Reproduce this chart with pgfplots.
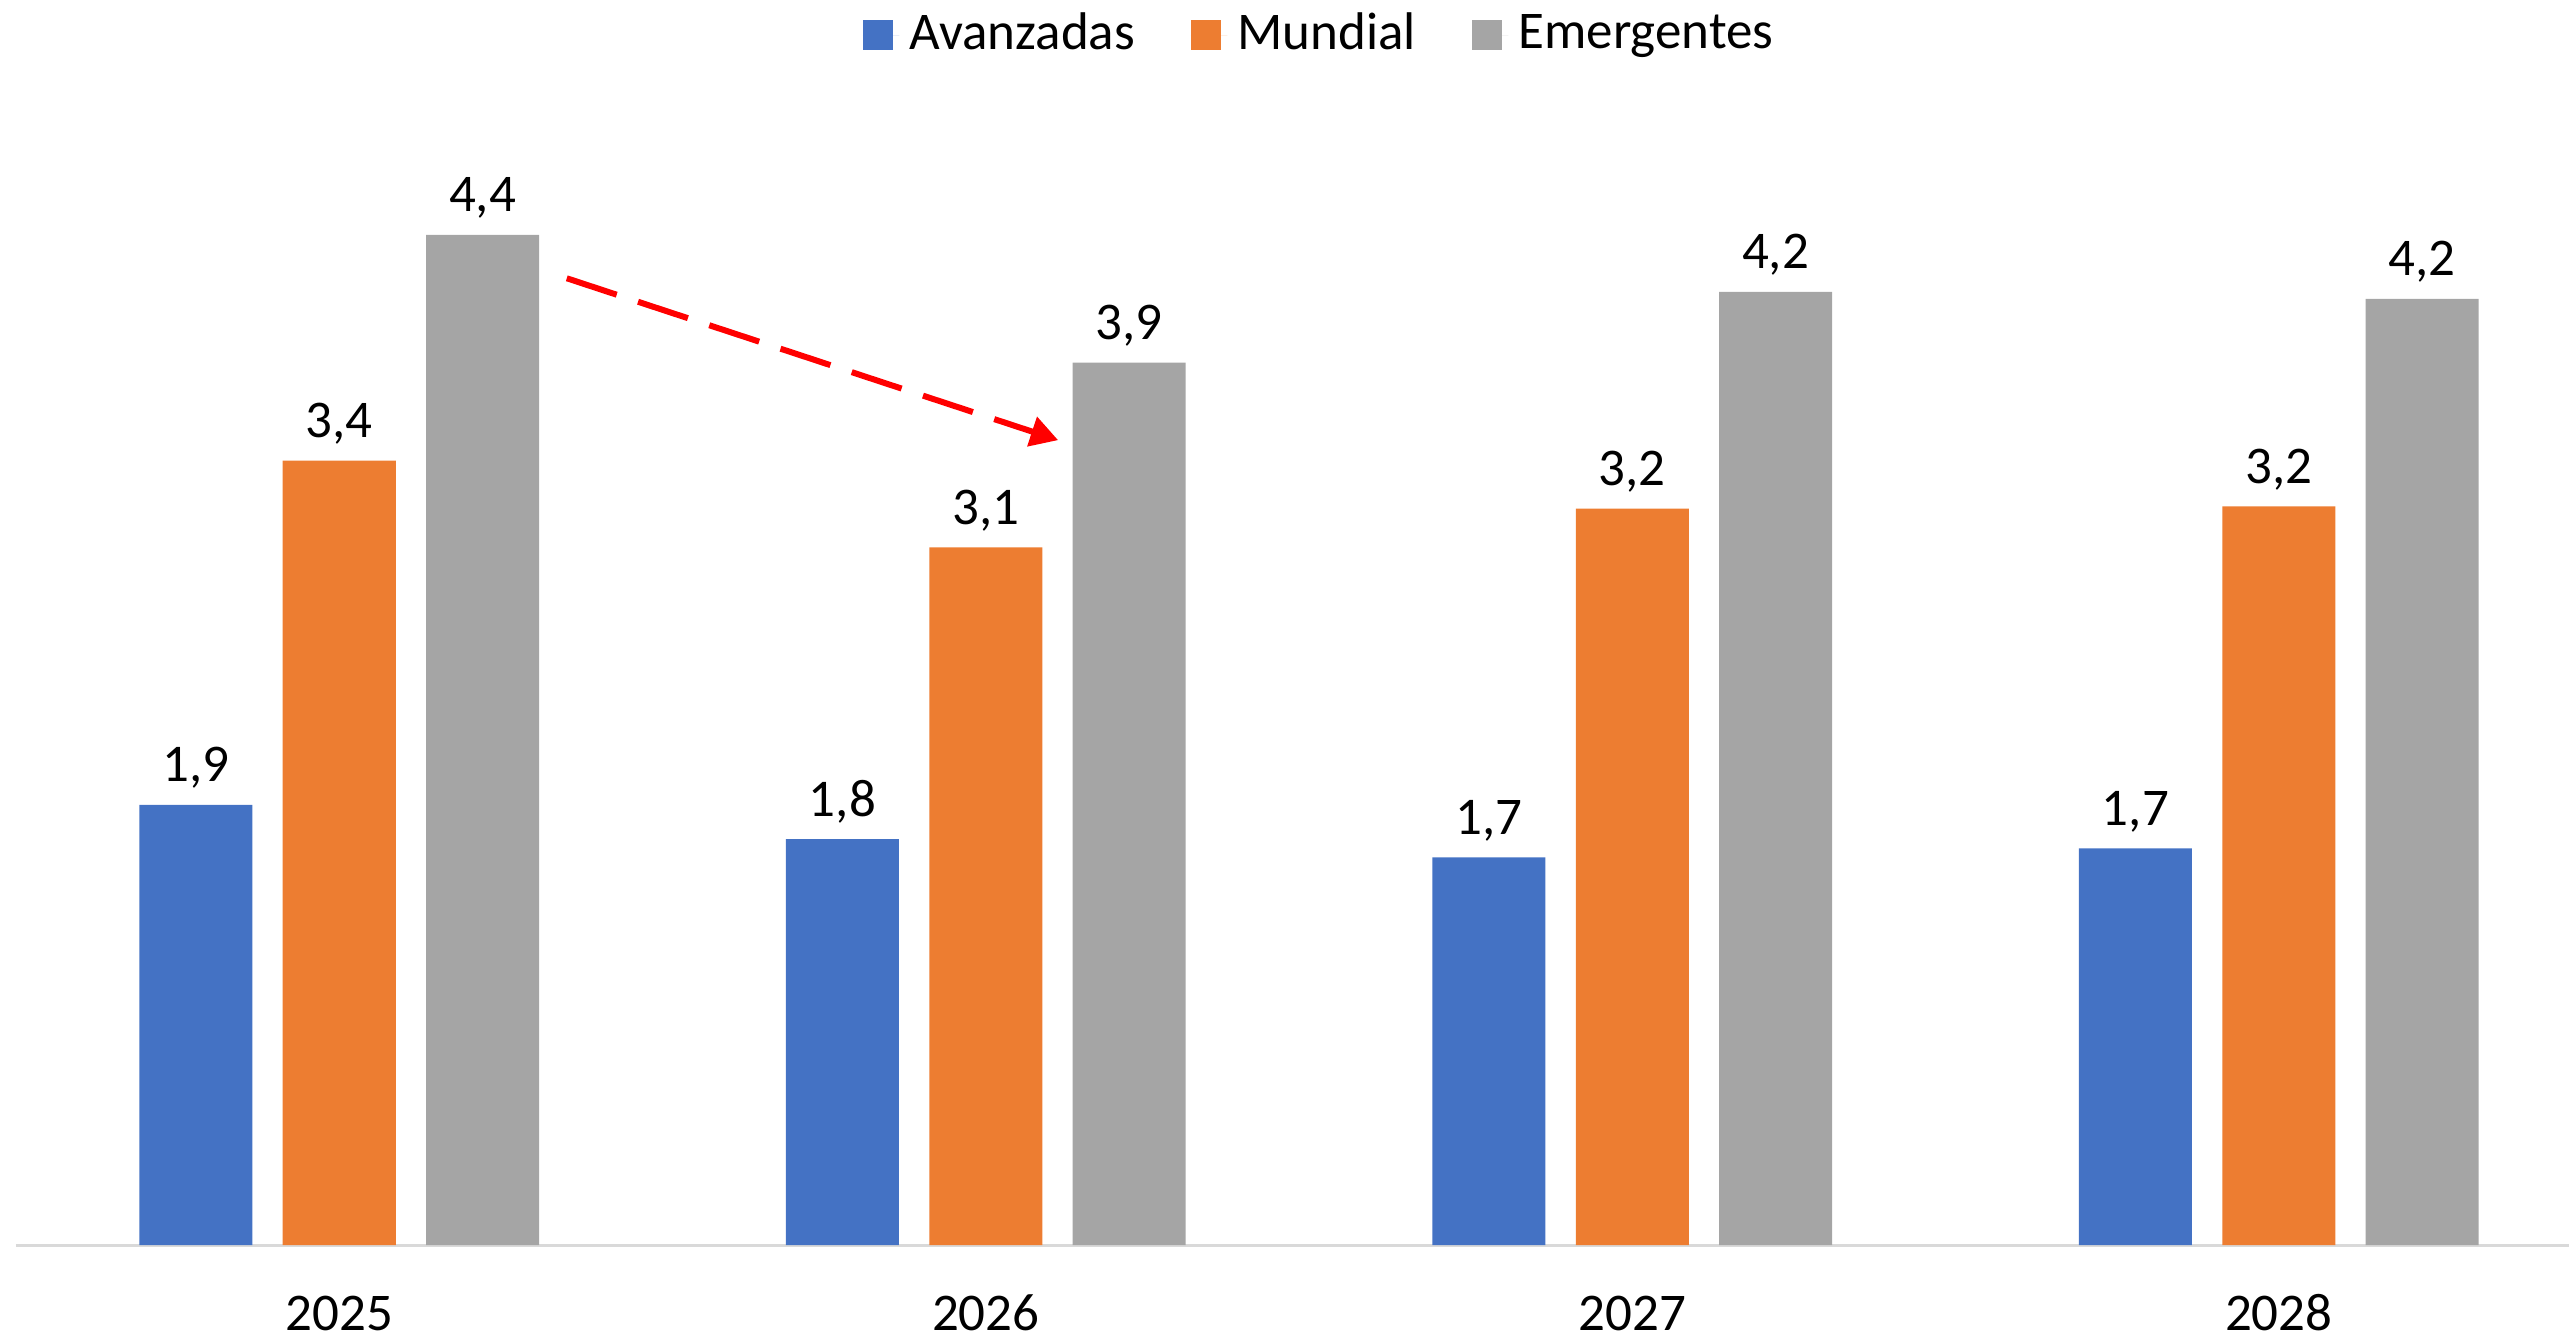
\documentclass[border=0pt]{standalone}
\usepackage{pgfplots}
\pgfplotsset{compat=1.18}
\usepackage{pgfplotstable}
\usetikzlibrary{arrows.meta}
\usepackage{fontspec}
\setmainfont{Carlito}
\definecolor{cblue}{HTML}{4472C4}
\definecolor{corange}{HTML}{ED7D31}
\definecolor{cgray}{HTML}{A5A5A5}
\definecolor{cline}{HTML}{D9D9D9}
\pgfplotstableread{
x av avl mu mul em eml
0 1.93 1,9 3.44 3,4 4.43 4,4
1 1.78 1,8 3.06 3,1 3.87 3,9
2 1.70 1,7 3.23 3,2 4.18 4,2
3 1.74 1,7 3.24 3,2 4.15 4,2
}\data
\begin{document}
\begin{tikzpicture}
\useasboundingbox (-3.2pt,-18.6pt) rectangle (510.6pt,249pt);
\begin{axis}[
  at={(0,0)}, anchor=south west,
  scale only axis,
  width=510.6pt, height=228pt,
  xmin=-0.5, xmax=3.449,
  ymin=0, ymax=5,
  clip=false,
  ybar=6.06pt,
  bar width=22.6pt,
  axis x line*=bottom,
  axis y line=none,
  x axis line style={draw=cline, line width=0.6pt, -},
  xtick={0,1,2,3},
  xticklabels={2025,2026,2027,2028},
  major tick length=0pt,
  xtick style={draw=none},
  /pgf/number format/assume math mode=true,
  xticklabel style={font=\fontsize{10.6}{12}\selectfont, anchor=base, yshift=-17pt, inner sep=0pt},
  point meta=explicit symbolic,
  nodes near coords={\pgfplotspointmeta},
  nodes near coords style={font=\fontsize{10.6}{12}\selectfont, anchor=base, yshift=4.6pt, inner sep=0pt, text=black},
  legend columns=-1,
  legend style={at={(0.512,1.0614)}, anchor=center, draw=none, fill=none,
    font=\fontsize{10.6}{12}\selectfont,
    /tikz/every even column/.append style={column sep=9.2pt},
    inner sep=0pt},
  legend image code/.code={\path (0pt,0pt) -- (7.3pt,0pt); \fill[#1] (0pt,-3pt) rectangle (6pt,3pt);},
  legend cell align=left,
]
\addplot[fill=cblue, draw=none] table[x=x, y=av, meta=avl] {\data};
\addplot[fill=corange, draw=none] table[x=x, y=mu, meta=mul] {\data};
\addplot[fill=cgray, draw=none] table[x=x, y=em, meta=eml] {\data};
\legend{Avanzadas, Mundial, Emergentes}
\draw[red, line width=1.2pt, dash pattern=on 10.5pt off 4.5pt, -{Triangle[length=5.5pt,width=6pt]}]
  (axis cs:0.352,4.24) -- (axis cs:1.112,3.53);
\end{axis}
\end{tikzpicture}
\end{document}
